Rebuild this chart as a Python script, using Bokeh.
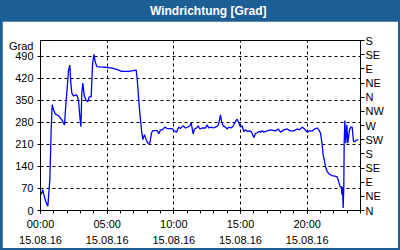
from bokeh.plotting import figure
from bokeh.models import LinearAxis, FixedTicker, Range1d
from bokeh.layouts import column
from bokeh.core.properties import value
from bokeh.embed import file_html
from bokeh.resources import INLINE

# ---- data (hours since 00:00 on 15.08.16, wind direction in degrees) ----
hours = [0.05, 0.17, 0.3, 0.45, 0.55, 0.7, 0.8, 0.875, 0.975, 1.1, 1.35, 1.6, 1.8,
         1.9, 2.05, 2.1, 2.2, 2.275, 2.35, 2.475, 2.72, 2.85, 2.95, 3.03, 3.1, 3.175,
         3.275, 3.4, 3.55, 3.65, 3.8, 3.9, 4.0, 4.1, 4.225, 4.475, 4.875, 5.375, 5.875,
         6.075, 6.625, 7.175, 7.25, 7.375, 7.5, 7.575, 7.675, 7.8, 7.925, 8.05, 8.2,
         8.325, 8.425, 8.75, 8.875, 9.0, 9.125, 9.325, 9.5, 9.875, 10.0, 10.2, 10.375,
         10.5, 10.675, 10.875, 11.05, 11.2, 11.3, 11.45, 11.55, 11.7, 11.825, 11.95,
         12.125, 12.375, 12.5, 12.625, 12.8, 12.95, 13.125, 13.3, 13.375, 13.5, 13.575,
         13.7, 13.875, 14.0, 14.125, 14.3, 14.45, 14.625, 14.75, 14.875, 15.0, 15.125,
         15.25, 15.375, 15.55, 15.7, 15.825, 16.0, 16.125, 16.25, 16.375, 16.5, 16.625,
         16.75, 17.0, 17.25, 17.625, 17.825, 18.0, 18.25, 18.5, 18.75, 19.0, 19.25,
         19.425, 19.625, 19.8, 20.0, 20.175, 20.375, 20.575, 20.75, 20.875, 21.0,
         21.125, 21.2, 21.275, 21.375, 21.5, 21.625, 21.825, 22.075, 22.25, 22.375,
         22.475, 22.575, 22.6, 22.65, 22.7, 22.75, 22.775, 22.825, 22.9, 22.975, 23.05,
         23.175, 23.275, 23.375, 23.475, 23.575, 23.675, 23.825]
direction = [51, 66, 42, 22, 14, 98, 256, 336, 320, 307, 301, 288, 272,
             336, 415, 446, 462, 404, 373, 364, 367, 351, 299, 266, 373, 405,
             367, 351, 345, 361, 361, 462, 496, 473, 457, 456, 455, 452, 446,
             442, 442, 446, 420, 346, 288, 256, 225, 241, 225, 214, 214,
             246, 254, 254, 244, 256, 256, 265, 260, 260, 254, 249, 265,
             260, 269, 262, 265, 269, 278, 243, 259, 262, 269, 259,
             262, 262, 272, 262, 265, 262, 265, 269, 278, 304, 283,
             269, 265, 259, 265, 262, 269, 283, 290, 278, 265, 269,
             251, 256, 251, 253, 249, 232, 245, 247, 251, 249, 253,
             249, 253, 256, 253, 259, 249, 256, 259, 253, 253, 259,
             256, 265, 259, 249, 253, 253, 259, 262, 256, 246,
             209, 177, 162, 140, 124, 117, 111, 109, 107, 90,
             75, 75, 51, 75, 8, 82, 214, 286, 214, 272, 214,
             256, 265, 265, 219, 219, 223, 225]

left_ticks = [0, 70, 140, 210, 280, 350, 420, 490]
unit_tick = 521
unit_text = "Grad"
x_ticks = [0, 5, 10, 15, 20]
x_labels = ["00:00\n15.08.16", "05:00\n15.08.16", "10:00\n15.08.16",
            "15:00\n15.08.16", "20:00\n15.08.16"]
hour_ticks = list(range(0, 25))
compass_ticks = [0, 45, 90, 135, 180, 225, 270, 315, 360, 405, 450, 495, 540]
compass_labels = ["N", "NE", "E", "SE", "S", "SW", "W", "NW", "N", "NE", "E", "SE", "S"]

title_text = "Windrichtung [Grad]"

FONT = "Liberation Sans"
BLUE = "#1c5f94"

# ---- title bar ----
tb = figure(width=400, height=21, output_backend="svg", toolbar_location=None,
            x_range=Range1d(0, 400), y_range=Range1d(0, 21),
            x_axis_location=None, y_axis_location=None, min_border=0,
            background_fill_color=BLUE, border_fill_color=BLUE,
            outline_line_color=None)
tb.grid.visible = False
tb.text(x=[209.5], y=[11], text=[title_text], text_align="center",
        text_baseline="middle", text_font=value(FONT), text_font_size="12px",
        text_font_style="bold", text_color="white")

# ---- main chart ----
p = figure(width=396, height=227, output_backend="svg", toolbar_location=None,
           x_range=Range1d(0, 24), y_range=Range1d(0, 540),
           min_border_left=38, min_border_right=38, min_border_top=19,
           min_border_bottom=37, background_fill_color="white",
           border_fill_color="white", outline_line_color="black")
p.margin = (0, 2, 2, 2)

p.line(hours, direction, line_color="#0000ff", line_width=1.3)

# x axis
xa = p.xaxis[0]
xa.ticker = FixedTicker(ticks=x_ticks, minor_ticks=hour_ticks)
xa.major_label_overrides = {t: l for t, l in zip(x_ticks, x_labels)}
xa.major_tick_in = 0
xa.major_tick_out = 3
xa.minor_tick_in = 0
xa.minor_tick_out = 3
xa.major_label_standoff = 4
xa.major_label_text_font = FONT
xa.major_label_text_font_size = "11px"
xa.major_label_text_color = "black"
xa.major_label_text_line_height = 1.35
xa.axis_line_color = "black"
xa.major_tick_line_color = "black"
xa.minor_tick_line_color = "black"

# left axis (value ticks drawn as minor ticks, unit name as an extra label)
ya = p.yaxis[0]
ya.ticker = FixedTicker(ticks=left_ticks + [unit_tick], minor_ticks=left_ticks)
ya.major_label_overrides = {unit_tick: unit_text}
ya.major_tick_in = 0
ya.major_tick_out = 0
ya.minor_tick_in = 0
ya.minor_tick_out = 3
ya.major_label_standoff = 4
ya.major_label_text_font = FONT
ya.major_label_text_font_size = "11px"
ya.major_label_text_color = "black"
ya.axis_line_color = "black"
ya.minor_tick_line_color = "black"

# right compass axis
ra = LinearAxis(ticker=FixedTicker(ticks=compass_ticks),
                major_label_overrides={t: l for t, l in zip(compass_ticks, compass_labels)})
ra.major_tick_in = 0
ra.major_tick_out = 4
ra.minor_tick_line_color = None
ra.major_label_standoff = 1
ra.major_label_text_font = FONT
ra.major_label_text_font_size = "11px"
ra.major_label_text_color = "black"
ra.axis_line_color = "black"
ra.major_tick_line_color = "black"
p.add_layout(ra, "right")

# grids
p.xgrid.grid_line_color = "black"
p.xgrid.grid_line_dash = "3 3"
p.xgrid.grid_line_width = 1
p.ygrid.ticker = FixedTicker(ticks=left_ticks)
p.ygrid.grid_line_color = "black"
p.ygrid.grid_line_dash = "3 3"
p.ygrid.grid_line_width = 1

layout = column(tb, p, spacing=0, styles={"background-color": BLUE})

open("out.html", "w").write(file_html(layout, INLINE))
